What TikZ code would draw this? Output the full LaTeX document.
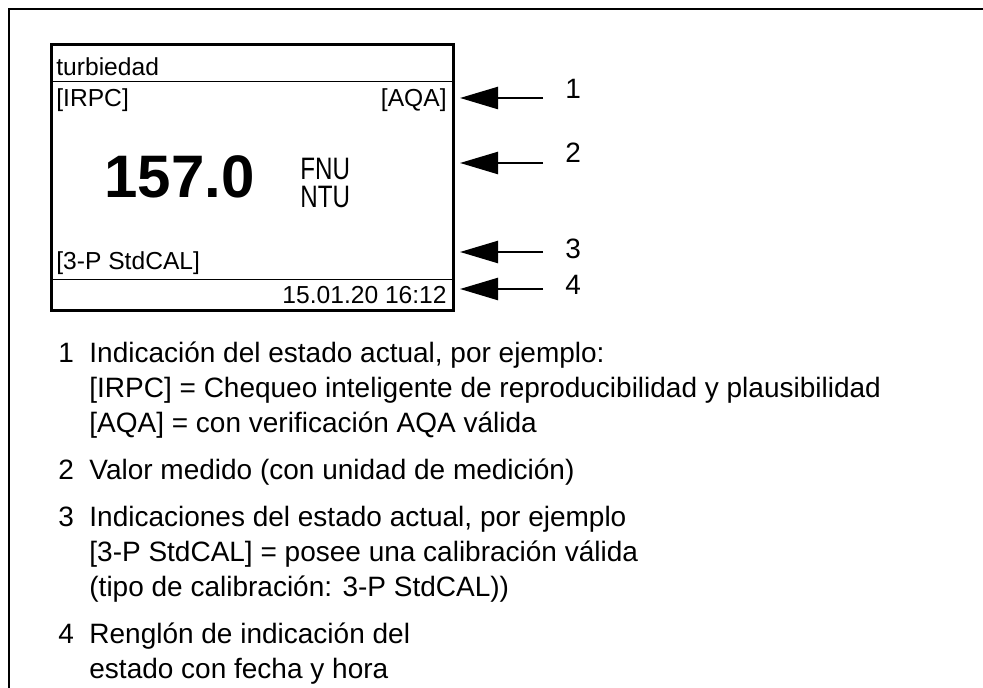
\documentclass[tikz,border=0pt]{standalone}
\usepackage{fontspec}
\setmainfont{Liberation Sans}
\newfontfamily\narrowfont[FakeStretch=0.78]{Liberation Sans}
\usetikzlibrary{arrows.meta}

\tikzset{
  txt/.style={anchor=base west, inner sep=0pt, font=\fontsize{12.3}{14}\selectfont},
  rtxt/.style={txt, anchor=base east},
  legend/.style={anchor=base west, inner sep=0pt, font=\fontsize{14}{17}\selectfont},
  callout/.style={legend},
  ptr/.style={line width=1.2pt, -{Triangle[length=19pt,width=11pt]}},
}

\begin{document}
\begin{tikzpicture}[x=0.5pt,y=-0.5pt]
\useasboundingbox (0,0) rectangle (983,688);

% open frame
\draw[line width=1pt] (9,688) -- (9,9) -- (983,9);

% display
\draw[line width=1.5pt] (51,45) rectangle (453,311);
\draw[line width=0.5pt] (51,82) -- (453,82);
\draw[line width=0.5pt] (51,280) -- (453,280);

\node[txt] (title) at (56,76) {turbiedad};
\node[txt] (irpc) at (56,107) {[IRPC]};
\node[rtxt] (aqa) at (447,107) {[AQA]};
\node[txt, font=\fontsize{30}{32}\selectfont\bfseries] (value) at (104,198) {157.0};
\node[txt, font=\fontsize{15.5}{17}\selectfont\narrowfont] (fnu) at (300,180) {FNU};
\node[txt, font=\fontsize{15.5}{17}\selectfont\narrowfont] (ntu) at (300,208) {NTU};
\node[txt] (cal) at (56,270) {[3-P StdCAL]};
\node[rtxt] (date) at (447,304) {15.01.20 16:12};

% pointers
\coordinate (t1) at (543,98);  \coordinate (h1) at (460,98);
\coordinate (t2) at (543,163); \coordinate (h2) at (460,163);
\coordinate (t3) at (543,252); \coordinate (h3) at (460,252);
\coordinate (t4) at (543,289); \coordinate (h4) at (460,289);
\draw[ptr] (t1) -- (h1);
\draw[ptr] (t2) -- (h2);
\draw[ptr] (t3) -- (h3);
\draw[ptr] (t4) -- (h4);
\node[callout] (n1) at (565,99) {1};
\node[callout] (n2) at (565,163) {2};
\node[callout] (n3) at (565,259) {3};
\node[callout] (n4) at (565,295) {4};

% legend
\node[legend] (k1) at (58,363) {1};
\node[legend] (d1a) at (89,363) {Indicación del estado actual, por ejemplo:};
\node[legend] (d1b) at (89,398) {[IRPC] = Chequeo inteligente de reproducibilidad y plausibilidad};
\node[legend] (d1c) at (89,433) {[AQA] = con verificación AQA válida};

\node[legend] (k2) at (58,480) {2};
\node[legend] (d2a) at (89,480) {Valor medido (con unidad de medición)};

\node[legend] (k3) at (58,526) {3};
\node[legend] (d3a) at (89,526) {Indicaciones del estado actual, por ejemplo};
\node[legend] (d3b) at (89,561) {[3-P StdCAL] = posee una calibración válida};
\node[legend] (d3c) at (89,596) {(tipo de calibración: 3-P StdCAL))};

\node[legend] (k4) at (58,643) {4};
\node[legend] (d4a) at (89,643) {Renglón de indicación del};
\node[legend] (d4b) at (89,678) {estado con fecha y hora};
\end{tikzpicture}
\end{document}
